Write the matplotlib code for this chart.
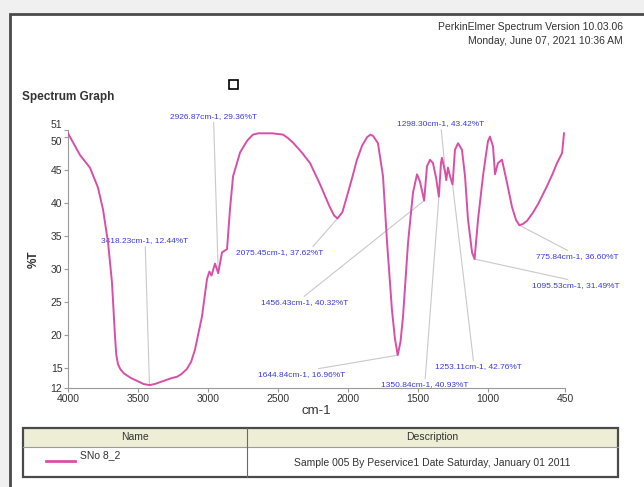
import matplotlib.pyplot as plt
from matplotlib.patches import Rectangle
from matplotlib.lines import Line2D

# IR spectrum (cm-1, %T)
wavenumber = [4000, 3914, 3843, 3786, 3750, 3714, 3686, 3664, 3655, 3643, 3625,
              3600, 3550, 3500, 3460, 3418, 3380, 3340, 3300, 3260, 3221, 3190,
              3150, 3120, 3093, 3043, 3007, 2990, 2975, 2950, 2927, 2900, 2864,
              2843, 2821, 2771, 2720, 2679, 2640, 2540, 2464, 2430, 2393, 2330,
              2271, 2200, 2129, 2100, 2075, 2040, 2007, 1970, 1936, 1900, 1864,
              1840, 1821, 1786, 1750, 1721, 1686, 1665, 1645, 1625, 1607, 1571,
              1536, 1507, 1486, 1456, 1436, 1414, 1393, 1371, 1351, 1336, 1329,
              1307, 1298, 1286, 1271, 1253, 1236, 1214, 1186, 1164, 1143, 1114,
              1096, 1071, 1036, 1015, 1000, 986, 964, 950, 929, 900, 864, 829,
              800, 776, 750, 720, 679, 640, 579, 540, 507, 471, 457]
transmittance = [50.5, 47.2, 45.3, 42.3, 39.0, 34.0, 28.0, 19.7, 17.0, 15.6, 14.8,
                 14.2, 13.5, 13.0, 12.6, 12.44, 12.6, 12.9, 13.2, 13.5, 13.7, 14.1,
                 14.9, 16.0, 17.8, 22.8, 28.5, 29.6, 29.0, 30.8, 29.36, 32.5, 33.0,
                 39.0, 44.0, 47.6, 49.4, 50.3, 50.5, 50.5, 50.3, 49.8, 49.1, 47.6,
                 46.0, 42.8, 39.3, 38.1, 37.62, 38.6, 41.0, 43.8, 46.5, 48.6, 49.9,
                 50.3, 50.1, 49.0, 44.0, 34.0, 23.8, 19.5, 16.96, 19.0, 22.8, 34.0,
                 41.5, 44.3, 43.2, 40.32, 45.5, 46.5, 46.0, 43.8, 40.93, 46.0, 46.8,
                 44.7, 43.42, 45.3, 44.0, 42.76, 48.0, 49.0, 48.0, 44.0, 37.5, 32.5,
                 31.49, 37.5, 44.0, 47.2, 49.3, 50.0, 48.5, 44.3, 46.0, 46.5, 43.0,
                 39.4, 37.4, 36.6, 36.8, 37.3, 38.5, 39.9, 42.5, 44.3, 46.0, 47.5, 50.5]

# peak labels: position of the peak, label centre, where the leader line leaves the label
peak_x = [2926.87, 3418.23, 2075.45, 1456.43, 1644.84, 1350.84, 1253.11, 1298.30, 775.84, 1095.53]
peak_y = [29.36, 12.44, 37.62, 40.32, 16.96, 40.93, 42.76, 43.42, 36.60, 31.49]
label_x = [2960, 3450, 2486, 2307, 2329, 1450, 1071, 1336, 364, 371]
label_y = [53.1, 34.3, 32.45, 24.9, 13.97, 12.45, 15.2, 52.0, 31.85, 27.45]
label_rel = [(0.5, 0), (0.5, 1), (0.85, 1), (0.45, 1), (0.5, 1), (0.5, 1),
             (0.45, 1), (0.5, 0), (0.45, 1), (0.55, 1)]

x_ticks = [4000, 3500, 3000, 2500, 2000, 1500, 1000, 450]
y_ticks = [12, 15, 20, 25, 30, 35, 40, 45, 50, 51]

W, H = 644, 487
plt.rcParams['font.family'] = ['Liberation Sans', 'DejaVu Sans']


def fx(px):
    return px / W


def fy(py):
    return 1 - py / H


fig = plt.figure(figsize=(6.44, 4.87), dpi=100, facecolor='#f0f0f0')

# outer report frame (behind everything)
fig.patches.append(Rectangle((fx(10), fy(500)), fx(660) - fx(10), fy(14) - fy(500),
                             transform=fig.transFigure, facecolor='white',
                             edgecolor='#4a4a4a', linewidth=2, zorder=-5))

fig.text(fx(623), fy(27), 'PerkinElmer Spectrum Version 10.03.06', ha='right', va='center',
         fontsize=7.5, color='#333333')
fig.text(fx(623), fy(41), 'Monday, June 07, 2021 10:36 AM', ha='right', va='center',
         fontsize=7.5, color='#333333')
fig.text(fx(22), fy(97), 'Spectrum Graph', ha='left', va='center', fontsize=8.5,
         fontweight='bold', color='#333333')
fig.patches.append(Rectangle((fx(229), fy(89)), fx(9), fy(0) - fy(9),
                             transform=fig.transFigure, facecolor='none',
                             edgecolor='black', linewidth=1.2))

ax = fig.add_axes([fx(68), fy(388), fx(565) - fx(68), fy(130) - fy(388)])
ax.set_facecolor('none')
ax.plot(wavenumber, transmittance, color='#d94fa6', linewidth=1.4, zorder=3)
ax.set_xlim(4000, 450)
ax.set_ylim(12, 51)
ax.set_xticks(x_ticks)
ax.set_yticks(y_ticks)
for s in ['top', 'right']:
    ax.spines[s].set_visible(False)
for s in ['left', 'bottom']:
    ax.spines[s].set_color('#9a9a9a')
    ax.spines[s].set_linewidth(0.8)
ax.tick_params(colors='#9a9a9a', labelcolor='#333333', labelsize=7.5, length=3, width=0.8, pad=1)
ytl = ax.get_yticklabels()
ytl[-1].set_va('bottom')
ytl[-2].set_va('top')
ax.set_xlabel('cm-1', fontsize=9.5, color='#333333', labelpad=1)
ax.set_ylabel('%T', fontsize=8.5, color='#333333', fontweight='bold', labelpad=8)

for i in range(len(peak_x)):
    ax.annotate(f'{peak_x[i]:.2f}cm-1, {peak_y[i]:.2f}%T', xy=(peak_x[i], peak_y[i]),
                xytext=(label_x[i], label_y[i]), ha='center', va='center',
                fontsize=6, color='#3b3bd6', annotation_clip=False, zorder=2,
                arrowprops=dict(arrowstyle='-', color='#c9c9c9', lw=0.8,
                                relpos=label_rel[i], shrinkA=0, shrinkB=0))

# legend table below the chart
tl, tr, tt, th, tb, tc = 23, 618, 428, 447, 477, 247
fig.patches.append(Rectangle((fx(tl), fy(th)), fx(tr) - fx(tl), fy(tt) - fy(th),
                             transform=fig.transFigure, facecolor='#eeeed6',
                             edgecolor='none'))
fig.patches.append(Rectangle((fx(tl), fy(tb)), fx(tr) - fx(tl), fy(tt) - fy(tb),
                             transform=fig.transFigure, facecolor='none',
                             edgecolor='#4a4a4a', linewidth=1.6))
fig.add_artist(Line2D([fx(tl), fx(tr)], [fy(th), fy(th)], color='#9a9a9a', lw=0.8))
fig.add_artist(Line2D([fx(tc), fx(tc)], [fy(tt), fy(tb)], color='#6a6a6a', lw=0.8))
fig.text(fx((tl + tc) / 2), fy(437), 'Name', ha='center', va='center', fontsize=7.5, color='#333333')
fig.text(fx((tc + tr) / 2), fy(437), 'Description', ha='center', va='center', fontsize=7.5, color='#333333')
fig.add_artist(Line2D([fx(46), fx(75)], [fy(461), fy(461)], color='#d94fa6', lw=2))
fig.text(fx(80), fy(455), 'SNo 8_2', ha='left', va='center', fontsize=7.5, color='#333333')
fig.text(fx(432), fy(463), 'Sample 005 By Peservice1 Date Saturday, January 01 2011',
         ha='center', va='center', fontsize=7.5, color='#333333')

fig.savefig('out.png', dpi=100, facecolor=fig.get_facecolor())
